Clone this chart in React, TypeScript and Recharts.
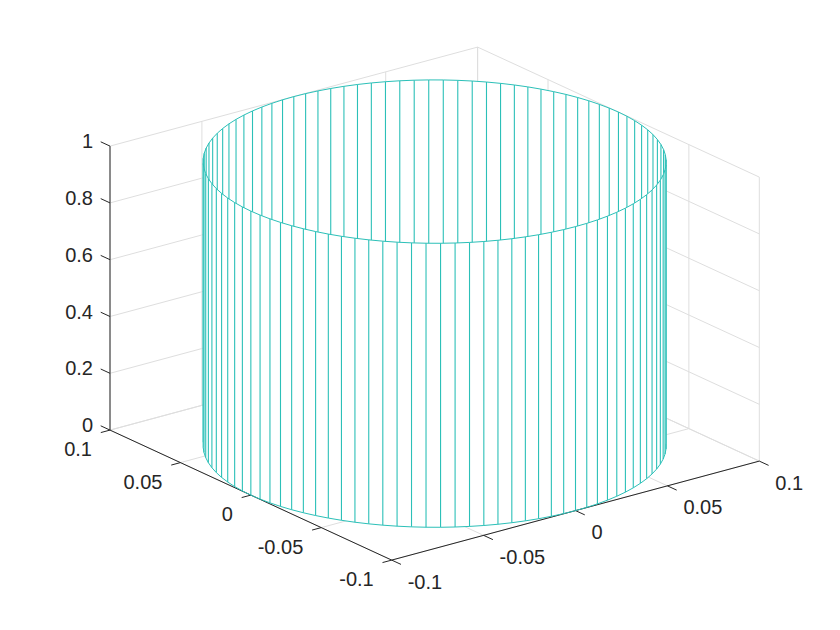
import { ComposedChart, Area, Line, XAxis, YAxis } from "recharts";

// surface rim, one value per facet (100 facets around the circle)
const RIM_X = [
  0.1, 0.0998, 0.09921, 0.09823, 0.09686, 0.09511, 0.09298, 0.09048, 0.08763, 0.08443,
  0.0809, 0.07705, 0.0729, 0.06845, 0.06374, 0.05878, 0.05358, 0.04818, 0.04258, 0.03681,
  0.0309, 0.02487, 0.01874, 0.01253, 0.00628, 0, -0.00628, -0.01253, -0.01874, -0.02487,
  -0.0309, -0.03681, -0.04258, -0.04818, -0.05358, -0.05878, -0.06374, -0.06845, -0.0729, -0.07705,
  -0.0809, -0.08443, -0.08763, -0.09048, -0.09298, -0.09511, -0.09686, -0.09823, -0.09921, -0.0998,
  -0.1, -0.0998, -0.09921, -0.09823, -0.09686, -0.09511, -0.09298, -0.09048, -0.08763, -0.08443,
  -0.0809, -0.07705, -0.0729, -0.06845, -0.06374, -0.05878, -0.05358, -0.04818, -0.04258, -0.03681,
  -0.0309, -0.02487, -0.01874, -0.01253, -0.00628, 0, 0.00628, 0.01253, 0.01874, 0.02487,
  0.0309, 0.03681, 0.04258, 0.04818, 0.05358, 0.05878, 0.06374, 0.06845, 0.0729, 0.07705,
  0.0809, 0.08443, 0.08763, 0.09048, 0.09298, 0.09511, 0.09686, 0.09823, 0.09921, 0.0998,
];
const RIM_Y = [
  0, 0.00628, 0.01253, 0.01874, 0.02487, 0.0309, 0.03681, 0.04258, 0.04818, 0.05358,
  0.05878, 0.06374, 0.06845, 0.0729, 0.07705, 0.0809, 0.08443, 0.08763, 0.09048, 0.09298,
  0.09511, 0.09686, 0.09823, 0.09921, 0.0998, 0.1, 0.0998, 0.09921, 0.09823, 0.09686,
  0.09511, 0.09298, 0.09048, 0.08763, 0.08443, 0.0809, 0.07705, 0.0729, 0.06845, 0.06374,
  0.05878, 0.05358, 0.04818, 0.04258, 0.03681, 0.0309, 0.02487, 0.01874, 0.01253, 0.00628,
  0, -0.00628, -0.01253, -0.01874, -0.02487, -0.0309, -0.03681, -0.04258, -0.04818, -0.05358,
  -0.05878, -0.06374, -0.06845, -0.0729, -0.07705, -0.0809, -0.08443, -0.08763, -0.09048, -0.09298,
  -0.09511, -0.09686, -0.09823, -0.09921, -0.0998, -0.1, -0.0998, -0.09921, -0.09823, -0.09686,
  -0.09511, -0.09298, -0.09048, -0.08763, -0.08443, -0.0809, -0.07705, -0.0729, -0.06845, -0.06374,
  -0.05878, -0.05358, -0.04818, -0.04258, -0.03681, -0.0309, -0.02487, -0.01874, -0.01253, -0.00628,
];
const Z_BOTTOM = 0;
const Z_TOP = 1;

const X_TICKS = [-0.1, -0.05, 0, 0.05, 0.1];
const Y_TICKS = [-0.1, -0.05, 0, 0.05, 0.1];
const Z_TICKS = [0, 0.2, 0.4, 0.6, 0.8, 1];
const X_LABELS = ["-0.1", "-0.05", "0", "0.05", "0.1"];
const Y_LABELS = ["-0.1", "-0.05", "0", "0.05", "0.1"];
const Z_LABELS = ["0", "0.2", "0.4", "0.6", "0.8", "1"];

const WIDTH = 840;
const HEIGHT = 630;
const SURFACE = "#2cc0b8";
const GRID = "#dedede";
const AXIS = "#262626";
const TEXT = "#262626";
const STEM_WIDTH = 1.1;
const RIM_WIDTH = 1;

// view az -37.5 el 30, stretched to the box
function project(x: number, y: number, z: number) {
  return {
    px: 434.65 + 1838 * x - 1408.5 * y,
    py: 445.6 - 495 * x - 650 * y - 284 * z,
  };
}

const seg = (a: number[], b: number[]) => [
  project(a[0], a[1], a[2]),
  project(b[0], b[1], b[2]),
];

const gridSegs = [
  ...X_TICKS.map((x) => seg([x, -0.1, 0], [x, 0.1, 0])),
  ...Y_TICKS.map((y) => seg([-0.1, y, 0], [0.1, y, 0])),
  ...X_TICKS.map((x) => seg([x, 0.1, 0], [x, 0.1, 1])),
  ...Y_TICKS.map((y) => seg([0.1, y, 0], [0.1, y, 1])),
  ...Z_TICKS.map((z) => seg([-0.1, 0.1, z], [0.1, 0.1, z])),
  ...Z_TICKS.map((z) => seg([0.1, -0.1, z], [0.1, 0.1, z])),
];

const axisSegs = [
  seg([-0.1, -0.1, 0], [0.1, -0.1, 0]),
  seg([-0.1, -0.1, 0], [-0.1, 0.1, 0]),
  seg([-0.1, 0.1, 0], [-0.1, 0.1, 1]),
  ...X_TICKS.map((x) => seg([x, -0.1, 0], [x, -0.1066, 0])),
  ...Y_TICKS.map((y) => seg([-0.1, y, 0], [-0.105, y, 0])),
  ...Z_TICKS.map((z) => seg([-0.1, 0.1, z], [-0.1, 0.1066, z])),
];

// facing the viewer when the outward normal points down the screen
const isBack = (i: number) => 495 * RIM_X[i] + 650 * RIM_Y[i] > 0;
const next = (i: number) => (i + 1) % RIM_X.length;

const panel = (i: number) => {
  const top = [i, next(i)].map((k) => project(RIM_X[k], RIM_Y[k], Z_TOP));
  const bottom = [i, next(i)].map((k) => project(RIM_X[k], RIM_Y[k], Z_BOTTOM));
  return [
    { px: top[0].px, band: [top[0].py, bottom[0].py] },
    { px: top[1].px, band: [top[1].py, bottom[1].py] },
  ].sort((a, b) => a.px - b.px);
};

const stem = (i: number) => [
  project(RIM_X[i], RIM_Y[i], Z_TOP),
  project(RIM_X[i], RIM_Y[i], Z_BOTTOM),
];

const rimSeg = (i: number, z: number) => [
  project(RIM_X[i], RIM_Y[i], z),
  project(RIM_X[next(i)], RIM_Y[next(i)], z),
];

const indices = RIM_X.map((_, i) => i);
const backIdx = indices.filter(isBack);
const frontIdx = indices.filter((i) => !isBack(i));

const xLabels = X_TICKS.map((x, i) => {
  const p = project(x, -0.1, 0);
  return { px: p.px + 16, py: p.py + 28.5, label: X_LABELS[i], anchor: "start" };
});
const yLabels = Y_TICKS.map((y, i) => {
  const p = project(-0.1, y, 0);
  return { px: p.px - 18, py: p.py + 26, label: Y_LABELS[i], anchor: "end" };
});
const zLabels = Z_TICKS.map((z, i) => {
  const p = project(-0.1, 0.1, z);
  return { px: p.px - 17, py: p.py + 2, label: Z_LABELS[i], anchor: "end" };
});
const allLabels = [...xLabels, ...yLabels, ...zLabels];

const renderLabel = (props: any) => (
  <text
    key={props.payload.label + props.payload.px}
    x={props.cx}
    y={props.cy}
    textAnchor={props.payload.anchor}
    fontFamily="'Liberation Sans', Arial, sans-serif"
    fontSize={20}
    fill={TEXT}
  >
    {props.payload.label}
  </text>
);

const drawLine = (data: any[], key: string, stroke: string, zIndex: number, width = 1) => (
  <Line
    key={key}
    data={data}
    dataKey="py"
    type="linear"
    stroke={stroke}
    strokeWidth={width}
    dot={false}
    activeDot={false}
    legendType="none"
    isAnimationActive={false}
    zIndex={zIndex}
  />
);

const drawPanel = (i: number, zIndex: number) => (
  <Area
    key={`panel-${i}`}
    data={panel(i)}
    dataKey="band"
    type="linear"
    fill="#ffffff"
    fillOpacity={1}
    stroke="none"
    dot={false}
    activeDot={false}
    legendType="none"
    isAnimationActive={false}
    zIndex={zIndex}
  />
);

export default function App() {
  return (
    <div style={{ position: "absolute", left: 0, top: 0, width: WIDTH, height: HEIGHT, background: "#fff" }}>
      <ComposedChart width={WIDTH} height={HEIGHT} margin={{ top: 0, right: 0, bottom: 0, left: 0 }}>
        <XAxis type="number" dataKey="px" domain={[0, WIDTH]} hide allowDataOverflow />
        <YAxis type="number" domain={[0, HEIGHT]} reversed hide allowDataOverflow />
        {gridSegs.map((s, i) => drawLine(s, `grid-${i}`, GRID, 1))}
        {backIdx.map((i) => drawPanel(i, 2))}
        {backIdx.map((i) => drawLine(stem(i), `back-${i}`, SURFACE, 3, STEM_WIDTH))}
        {backIdx.map((i) => drawLine(rimSeg(i, Z_TOP), `back-rim-${i}`, SURFACE, 3, RIM_WIDTH))}
        {frontIdx.map((i) => drawPanel(i, 4))}
        {axisSegs.map((s, i) => drawLine(s, `axis-${i}`, AXIS, 5))}
        {frontIdx.map((i) => drawLine(stem(i), `front-${i}`, SURFACE, 6, STEM_WIDTH))}
        {frontIdx.map((i) => drawLine(rimSeg(i, Z_TOP), `front-top-${i}`, SURFACE, 6, RIM_WIDTH))}
        {frontIdx.map((i) => drawLine(rimSeg(i, Z_BOTTOM), `front-bottom-${i}`, SURFACE, 6, RIM_WIDTH))}
        <Line
          data={allLabels}
          dataKey="py"
          stroke="none"
          dot={renderLabel}
          activeDot={false}
          legendType="none"
          isAnimationActive={false}
          zIndex={7}
        />
      </ComposedChart>
    </div>
  );
}
